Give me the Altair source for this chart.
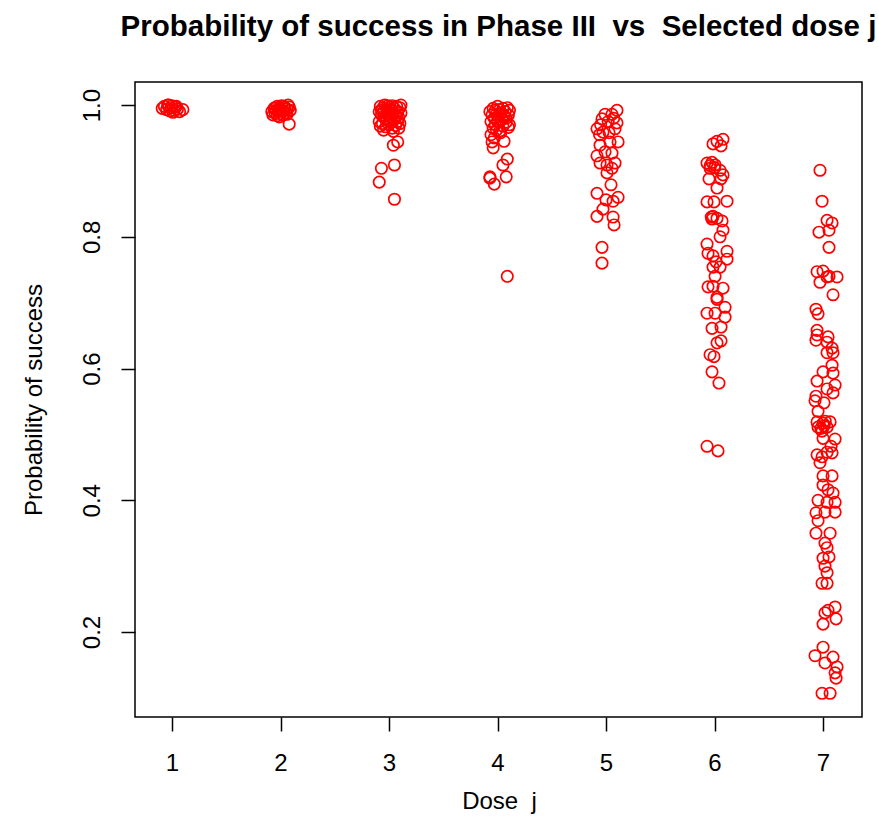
import altair as alt
import pandas as pd

# jittered dose positions and probabilities of success
dose1_pos = [0.91, 0.93, 0.95, 0.97, 0.99, 1.00, 1.02, 1.04, 1.05, 1.07, 1.10, 0.96, 1.01, 1.03, 0.98]
dose1_prob = [0.995, 0.998, 0.993, 1.000, 0.996, 0.999, 0.992, 0.998, 0.994, 0.990, 0.993, 1.000, 0.989, 0.997, 0.991]

dose2_pos = [1.92, 1.93, 1.94, 1.95, 1.96, 1.97, 1.97, 1.98, 1.99, 2.00, 2.00, 2.01, 2.02, 2.03, 2.04,
             2.05, 2.06, 2.07, 2.08, 2.09, 2.06, 1.99, 2.08, 2.03, 1.95]
dose2_prob = [0.990, 0.985, 0.995, 0.988, 0.992, 0.998, 0.984, 0.990, 0.996, 0.987, 0.993, 0.999, 0.985, 0.991, 0.996,
              0.988, 0.994, 1.000, 0.997, 0.992, 0.986, 0.982, 0.971, 0.998, 0.996]

dose3_pos = [2.91, 2.91, 2.92, 2.92, 2.93, 2.94, 2.94, 2.95, 2.96, 2.96, 2.97, 2.98, 2.98, 2.99, 3.00,
             3.00, 3.01, 3.02, 3.02, 3.03, 3.03, 3.04, 3.05, 3.05, 3.06, 3.06, 3.07, 3.08, 3.08, 3.09,
             3.10, 3.10, 3.11, 3.11, 2.95, 3.04, 2.99, 3.07, 2.93, 3.01,
             3.09, 3.04, 3.08, 2.93, 3.05, 2.91, 3.05]
dose3_prob = [0.990, 0.975, 0.998, 0.968, 0.985, 0.995, 0.972, 0.990, 0.980, 1.000, 0.967, 0.993, 0.977, 0.986, 0.997,
              0.970, 0.982, 0.991, 0.974, 0.999, 0.965, 0.987, 0.978, 0.995, 0.969, 0.984, 0.998, 0.975, 0.990, 0.981,
              0.996, 0.972, 0.988, 1.000, 0.962, 0.960, 0.999, 0.983, 0.992, 0.993,
              0.965, 0.939, 0.944, 0.904, 0.909, 0.883, 0.857]

dose4_pos = [3.93, 3.94, 3.95, 3.96, 3.96, 3.97, 3.98, 3.98, 3.99, 4.00, 4.00, 4.01, 4.02, 4.02, 4.03,
             4.04, 4.05, 4.05, 4.06, 4.07, 4.08, 4.09, 4.10, 4.11, 4.11, 3.94, 3.95, 3.96, 4.06, 4.10,
             3.97, 4.03, 3.99, 4.08,
             4.09, 4.05, 4.08, 3.93, 3.97, 3.93, 4.09]
dose4_prob = [0.990, 0.975, 0.985, 0.995, 0.965, 0.980, 0.992, 0.970, 0.986, 0.998, 0.975, 0.982, 0.993, 0.960, 0.988,
              0.978, 0.995, 0.968, 0.984, 0.990, 0.974, 0.996, 0.985, 0.970, 0.992, 0.955, 0.944, 0.935, 0.945, 0.966,
              0.950, 0.958, 0.962, 0.980,
              0.918, 0.909, 0.891, 0.889, 0.880, 0.891, 0.740]

dose5_pos = [5.101, 4.991, 4.963, 5.055, 5.101, 4.917, 4.972, 5.028, 5.083, 5.111, 4.945, 5.037, 4.917, 4.991, 5.055,
             4.945, 5.009, 5.083, 5.009, 5.055, 5.046, 4.917, 5.000, 5.065, 5.111, 4.972, 4.917, 5.065, 5.074, 4.963,
             4.963, 4.950, 5.020, 5.070, 4.940]
dose5_prob = [0.992, 0.986, 0.979, 0.986, 0.973, 0.964, 0.959, 0.958, 0.964, 0.944, 0.939, 0.944, 0.923, 0.929, 0.927,
              0.912, 0.909, 0.912, 0.897, 0.904, 0.879, 0.866, 0.856, 0.854, 0.860, 0.842, 0.831, 0.830, 0.818, 0.784,
              0.760, 0.970, 0.975, 0.980, 0.955]

dose6_pos = [6.023, 6.078, 5.986, 6.060, 5.931, 5.977, 6.005, 5.959, 6.051, 6.078, 5.949, 6.060, 6.023, 5.931, 5.995,
             6.115, 5.986, 6.023, 6.069, 5.977, 6.078, 6.051, 5.931, 6.115, 5.940, 5.986, 6.115, 6.014, 5.986, 6.051,
             6.005, 5.940, 5.986, 6.078, 6.023, 6.023, 6.097, 5.931, 6.005, 6.097, 5.977, 6.060, 6.060, 6.023, 5.959,
             5.995, 5.977, 6.041, 5.931, 6.032, 5.960, 6.000, 5.970]
dose6_prob = [0.945, 0.948, 0.941, 0.938, 0.912, 0.913, 0.909, 0.904, 0.901, 0.894, 0.888, 0.888, 0.874, 0.853, 0.853,
              0.854, 0.831, 0.828, 0.824, 0.827, 0.810, 0.800, 0.789, 0.778, 0.775, 0.771, 0.766, 0.762, 0.754, 0.754,
              0.740, 0.724, 0.725, 0.722, 0.708, 0.705, 0.693, 0.684, 0.684, 0.678, 0.661, 0.663, 0.642, 0.639, 0.621,
              0.618, 0.595, 0.578, 0.482, 0.475, 0.908, 0.905, 0.830]

dose7_pos = [6.972, 6.991, 7.037, 7.083, 6.963, 7.055, 7.055, 6.945, 7.000, 7.037, 7.129, 6.972, 7.055, 7.092, 6.935,
             6.954, 6.945, 6.945, 7.046, 7.037, 7.083, 6.935, 7.037, 7.092, 7.083, 7.000, 7.092, 6.945, 7.111, 7.037,
             7.092, 6.935, 6.926, 7.009, 6.954, 6.945, 7.000, 7.065, 6.954, 7.037, 6.991, 7.000, 7.111, 7.074, 6.945,
             7.037, 6.991, 7.083, 6.972, 7.000, 7.083, 7.000, 7.046, 7.092, 6.954, 7.037, 7.111, 6.935, 7.018, 7.111,
             6.954, 6.935, 7.065, 7.018, 7.037, 7.055, 7.000, 7.018, 7.037, 6.991, 7.037, 7.111, 7.046, 7.018, 7.120,
             7.000, 7.000, 6.926, 7.092, 7.018, 7.129, 7.111, 7.120, 6.991, 7.065, 7.010, 6.980, 7.020]
dose7_prob = [0.901, 0.854, 0.825, 0.821, 0.807, 0.810, 0.784, 0.747, 0.748, 0.739, 0.739, 0.731, 0.740, 0.712, 0.690,
              0.683, 0.658, 0.651, 0.648, 0.640, 0.631, 0.643, 0.624, 0.624, 0.605, 0.595, 0.593, 0.581, 0.575, 0.569,
              0.563, 0.558, 0.551, 0.548, 0.535, 0.519, 0.517, 0.519, 0.511, 0.511, 0.505, 0.494, 0.493, 0.482, 0.469,
              0.473, 0.466, 0.472, 0.457, 0.437, 0.437, 0.423, 0.416, 0.411, 0.400, 0.397, 0.397, 0.381, 0.382, 0.382,
              0.369, 0.350, 0.350, 0.335, 0.328, 0.314, 0.312, 0.300, 0.290, 0.274, 0.274, 0.238, 0.233, 0.229, 0.220,
              0.212, 0.177, 0.164, 0.162, 0.153, 0.147, 0.138, 0.130, 0.107, 0.107, 0.513, 0.509, 0.520]

x_ticks = [1, 2, 3, 4, 5, 6, 7]
y_ticks = [0.2, 0.4, 0.6, 0.8, 1.0]

positions = dose1_pos + dose2_pos + dose3_pos + dose4_pos + dose5_pos + dose6_pos + dose7_pos
probs = dose1_prob + dose2_prob + dose3_prob + dose4_prob + dose5_prob + dose6_prob + dose7_prob
df = pd.DataFrame({"pos": positions, "prob": probs})

FONT = "Liberation Sans"

chart = alt.Chart(df).mark_point(
    shape="circle", filled=False, color="#FF0000", size=130, strokeWidth=1.7, opacity=1
).encode(
    x=alt.X("pos:Q",
            scale=alt.Scale(domain=[0.659, 7.359], nice=False, zero=False),
            axis=alt.Axis(values=x_ticks, format="d", grid=False, domain=False,
                          tickSize=14, tickWidth=1.5, tickColor="black",
                          labelFont=FONT, labelFontSize=24, labelColor="black",
                          labelBaseline="alphabetic", labelPadding=39, labelFlush=False,
                          title="Dose\u00a0 j", titleFont=FONT, titleFontSize=24,
                          titleFontWeight="normal", titleColor="black",
                          titleX=364, titleY=91, titleBaseline="alphabetic", titleAlign="center")),
    y=alt.Y("prob:Q",
            scale=alt.Scale(domain=[0.071, 1.035], nice=False, zero=False),
            axis=alt.Axis(values=y_ticks, format=".1f", grid=False, domain=False,
                          tickSize=14, tickWidth=1.5, tickColor="black",
                          labelFont=FONT, labelFontSize=24, labelColor="black",
                          labelAngle=270, labelAlign="center", labelBaseline="alphabetic",
                          labelPadding=22, labelFlush=False,
                          title="Probability of success", titleFont=FONT, titleFontSize=24,
                          titleFontWeight="normal", titleColor="black", titleAngle=270,
                          titleX=-94, titleY=317.5, titleBaseline="alphabetic", titleAlign="center")),
).properties(
    width=727,
    height=635,
    background="white",
    autosize=alt.AutoSizeParams(type="none"),
    padding={"left": 135, "top": 82, "right": 17, "bottom": 120},
    title=alt.TitleParams(
        text="Probability of success in Phase III\u00a0 vs\u00a0 Selected dose j",
        font=FONT, fontSize=29.5, fontWeight="bold", color="black",
        anchor="middle", baseline="alphabetic", offset=17),
).configure_view(
    stroke="black", strokeWidth=1.5, fill="white"
)

chart.save("out.html", embed_options={"renderer": "svg", "actions": False})
